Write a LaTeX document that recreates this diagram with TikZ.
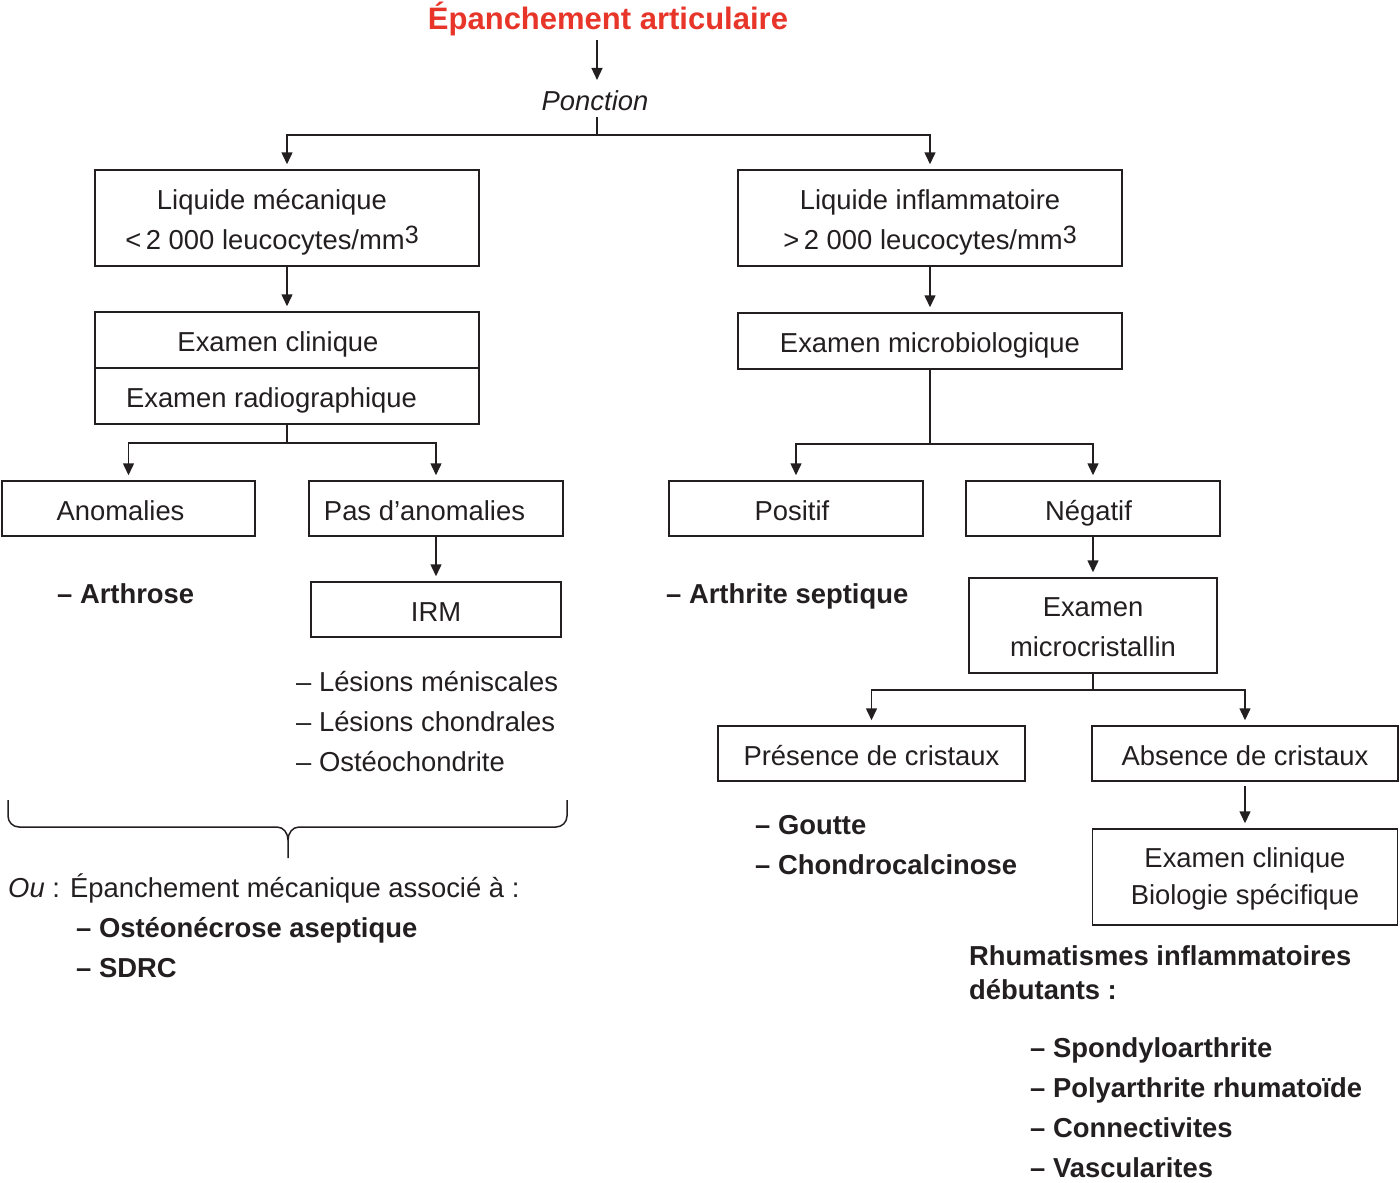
\documentclass[tikz,border=0pt]{standalone}
\usepackage{fontspec}
\setmainfont{Liberation Sans}
\usetikzlibrary{arrows.meta}
\definecolor{encre}{HTML}{231F20}
\definecolor{rouge}{HTML}{E8352A}
\begin{document}
\begin{tikzpicture}[x=1pt,y=-1pt,
        every node/.style={font=\fontsize{27.4}{40}\selectfont,text=encre},
        boite/.style={draw=encre,line width=1.5pt,inner sep=0pt,minimum height=55pt,text height=24pt,text depth=1pt},
        boite2/.style={draw=encre,line width=1.5pt,inner sep=0pt,minimum height=96pt,align=center},
        decale/.style={execute at begin node={\hspace*{#1}}},
        liste/.style={anchor=base west,inner sep=0pt},
        gras/.style={liste,font=\fontsize{27.4}{40}\selectfont\bfseries},
        fleche/.style={draw=encre,line width=1.5pt,-{Triangle[length=12pt,width=11pt]},shorten >=5pt},
        trait/.style={draw=encre,line width=1.5pt}]
                \useasboundingbox (0,0) rectangle (1400,1183);
                \node[anchor=base,inner sep=4pt,font=\fontsize{31}{36}\selectfont\bfseries,text=rouge] (titre) at (608,29) {Épanchement articulaire};
                \node[anchor=base,inner sep=7pt,font=\fontsize{27.4}{40}\selectfont\itshape] (ponction) at (595,110) {Ponction};
                \node[boite2,minimum width=384pt,decale=-30pt] (lm) at (287,218) {\rule{0pt}{29pt}Liquide mécanique\\<\,2 000 leucocytes/mm\raisebox{6pt}{\fontsize{25}{30}\selectfont 3}};
                \node[boite2,minimum width=384pt] (li) at (930,218) {\rule{0pt}{29pt}Liquide inflammatoire\\>\,2 000 leucocytes/mm\raisebox{6pt}{\fontsize{25}{30}\selectfont 3}};
                \node[boite,minimum width=384pt,minimum height=56pt,decale=-18pt] (clin) at (287,340) {Examen clinique};
                \node[boite,minimum width=384pt,minimum height=56pt,decale=-31pt] (radio) at (287,396) {Examen radiographique};
                \node[boite,minimum width=384pt,minimum height=56pt] (micro) at (930,341) {Examen microbiologique};
                \node[boite,minimum width=253pt,decale=-16pt] (anom) at (128.5,508.5) {Anomalies};
                \node[boite,minimum width=254pt,decale=-23pt] (pas) at (436,508.5) {Pas d’anomalies};
                \node[boite,minimum width=250pt] (irm) at (436,609.5) {IRM};
                \node[boite,minimum width=254pt,decale=-8pt] (pos) at (796,508.5) {Positif};
                \node[boite,minimum width=254pt,decale=-9pt] (neg) at (1093,508.5) {Négatif};
                \node[boite2,minimum width=248pt,minimum height=95pt] (cristal) at (1093,625.5) {\rule{0pt}{22pt}Examen\\microcristallin};
                \node[boite,minimum width=307pt] (pres) at (871.5,753.5) {Présence de cristaux};
                \node[boite,minimum width=306pt] (abs) at (1245,753.5) {Absence de cristaux};
                \node[boite2,minimum width=305pt,font=\fontsize{27.4}{37}\selectfont] (bio) at (1245,877) {\rule{0pt}{23pt}Examen clinique\\Biologie spécifique};
                \coordinate (f1) at (597,135);
                \coordinate (f2) at (287,443);
                \coordinate (f3) at (930,444);
                \coordinate (f4) at (1093,690);
                \draw[fleche,shorten >=3pt] (f1 |- titre.south) -- (f1 |- ponction.north);
                \draw[trait] (f1 |- ponction.south) -- (f1);
                \draw[fleche] (f1) -| (lm.north);
                \draw[fleche] (f1) -| (li.north);
                \draw[fleche] (lm) -- (clin);
                \draw[fleche] (li) -- (micro);
                \draw[trait] (radio) -- (f2);
                \draw[fleche] (f2) -| (anom.north);
                \draw[fleche] (f2) -| (pas.north);
                \draw[fleche] (pas) -- (irm);
                \draw[trait] (micro) -- (f3);
                \draw[fleche] (f3) -| (pos.north);
                \draw[fleche] (f3) -| (neg.north);
                \draw[fleche] (neg) -- (cristal);
                \draw[trait] (cristal) -- (f4);
                \draw[fleche] (f4) -| (pres.north);
                \draw[fleche] (f4) -| (abs.north);
                \draw[fleche,shorten <=4pt] (abs) -- (bio);
                \node[gras] (arthrose) at (57,603) {– Arthrose};
                \node[liste] (les1) at (296,691) {– Lésions méniscales};
                \node[liste] (les2) at (296,731) {– Lésions chondrales};
                \node[liste] (les3) at (296,771) {– Ostéochondrite};
                \draw[trait] (8,800) -- (8,816) to[out=-90,in=180] (19,827) -- (277,827) to[out=0,in=90] (288,840) -- (288,858);
                \draw[trait] (567,800) -- (567,816) to[out=-90,in=0] (556,827) -- (299,827) to[out=180,in=90] (288,840);
                \node[liste] (ou) at (8,897) {\textit{Ou} : Épanchement mécanique associé à :};
                \node[gras] (osteo) at (76,937) {– Ostéonécrose aseptique};
                \node[gras] (sdrc) at (76,977) {– SDRC};
                \node[gras] (septique) at (666,603) {– Arthrite septique};
                \node[gras] (goutte) at (755,834) {– Goutte};
                \node[gras] (chondro) at (755,874) {– Chondrocalcinose};
                \node[gras] (rhuma1) at (969,965) {Rhumatismes inflammatoires};
                \node[gras] (rhuma2) at (969,999) {débutants :};
                \node[gras] (spondy) at (1030,1057) {– Spondyloarthrite};
                \node[gras] (poly) at (1030,1097) {– Polyarthrite rhumatoïde};
                \node[gras] (connect) at (1030,1137) {– Connectivites};
                \node[gras] (vascu) at (1030,1177) {– Vascularites};
        \end{tikzpicture}
\end{document}
